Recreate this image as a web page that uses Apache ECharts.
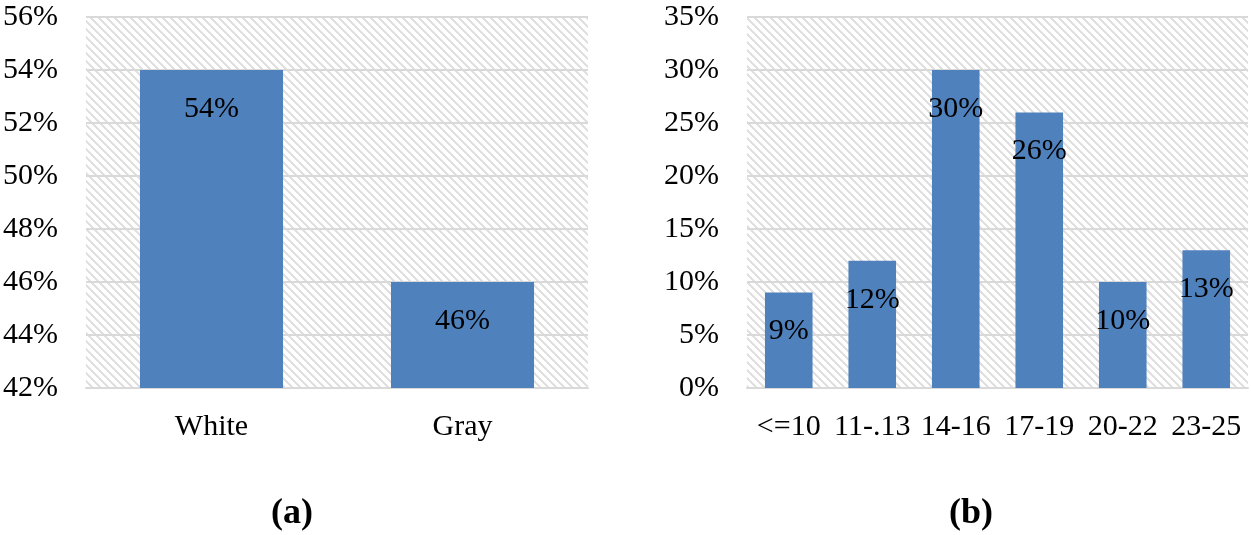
<!DOCTYPE html>
<html>
<head>
<meta charset="utf-8">
<script src="https://cdn.jsdelivr.net/npm/echarts@6/dist/echarts.min.js"></script>
<style>
  html, body { margin: 0; padding: 0; background: #fff; }
  #chart { width: 1251px; height: 535px; }
</style>
</head>
<body>
<div id="chart"></div>
<script>
// panel (a)
var colorCats = ['White', 'Gray'];
var colorVals = [54, 46];
// panel (b)
var ageCats = ['<=10', '11-.13', '14-16', '17-19', '20-22', '23-25'];
var ageVals = [9, 12, 30, 26, 10, 13];

var font = 'Liberation Serif, Times New Roman, serif';
var barColor = '#4f81bd';
var fs = 30;

// light diagonal hatch for the plot background, pixel tile
function hatch () {
  var n = 8;
  var c = document.createElement('canvas');
  c.width = n;
  c.height = n;
  var ctx = c.getContext('2d');
  var img = ctx.createImageData(n, n);
  for (var y = 0; y < n; y++) {
    for (var x = 0; x < n; x++) {
      var on = ((x - y + 2 * n) % n) < 3;
      var v = on ? 0xe0 : 0xff;
      var k = (y * n + x) * 4;
      img.data[k] = v; img.data[k + 1] = v; img.data[k + 2] = v; img.data[k + 3] = 255;
    }
  }
  ctx.putImageData(img, 0, 0);
  return { image: c, repeat: 'repeat' };
}
var bg = hatch();

function xAxis (idx, cats) {
  return {
    type: 'category',
    gridIndex: idx,
    data: cats,
    axisTick: { show: false },
    axisLine: { lineStyle: { color: '#d9d9d9', width: 2 } },
    axisLabel: { color: '#000', fontFamily: font, fontSize: fs, margin: 24, interval: 0, hideOverlap: false }
  };
}
function yAxis (idx, min, max, step) {
  return {
    type: 'value',
    gridIndex: idx,
    min: min,
    max: max,
    interval: step,
    axisLine: { show: false },
    axisTick: { show: false },
    splitLine: { lineStyle: { color: '#d9d9d9', width: 2 } },
    axisLabel: { color: '#000', fontFamily: font, fontSize: fs, margin: 28, formatter: '{value}%' }
  };
}
function bars (idx, vals) {
  return {
    type: 'bar',
    xAxisIndex: idx,
    yAxisIndex: idx,
    data: vals,
    barWidth: '57%',
    itemStyle: { color: barColor },
    label: {
      show: true,
      position: 'insideTop',
      distance: 24,
      color: '#000',
      fontFamily: font,
      fontSize: fs,
      formatter: '{c}%'
    }
  };
}

var chart = echarts.init(document.getElementById('chart'));
chart.setOption({
  backgroundColor: '#fff',
  animation: false,
  title: [
    { text: '(a)', left: 287, top: 491, textAlign: 'center',
      textStyle: { fontFamily: font, fontSize: 36, fontWeight: 'bold', color: '#000' } },
    { text: '(b)', left: 966, top: 491, textAlign: 'center',
      textStyle: { fontFamily: font, fontSize: 36, fontWeight: 'bold', color: '#000' } }
  ],
  grid: [
    { left: 86, right: 663, top: 17, bottom: 147, show: true, borderWidth: 0, backgroundColor: bg },
    { left: 747, right: 3, top: 17, bottom: 147, show: true, borderWidth: 0, backgroundColor: bg }
  ],
  xAxis: [xAxis(0, colorCats), xAxis(1, ageCats)],
  yAxis: [yAxis(0, 42, 56, 2), yAxis(1, 0, 35, 5)],
  series: [bars(0, colorVals), bars(1, ageVals)]
});
</script>
</body>
</html>
